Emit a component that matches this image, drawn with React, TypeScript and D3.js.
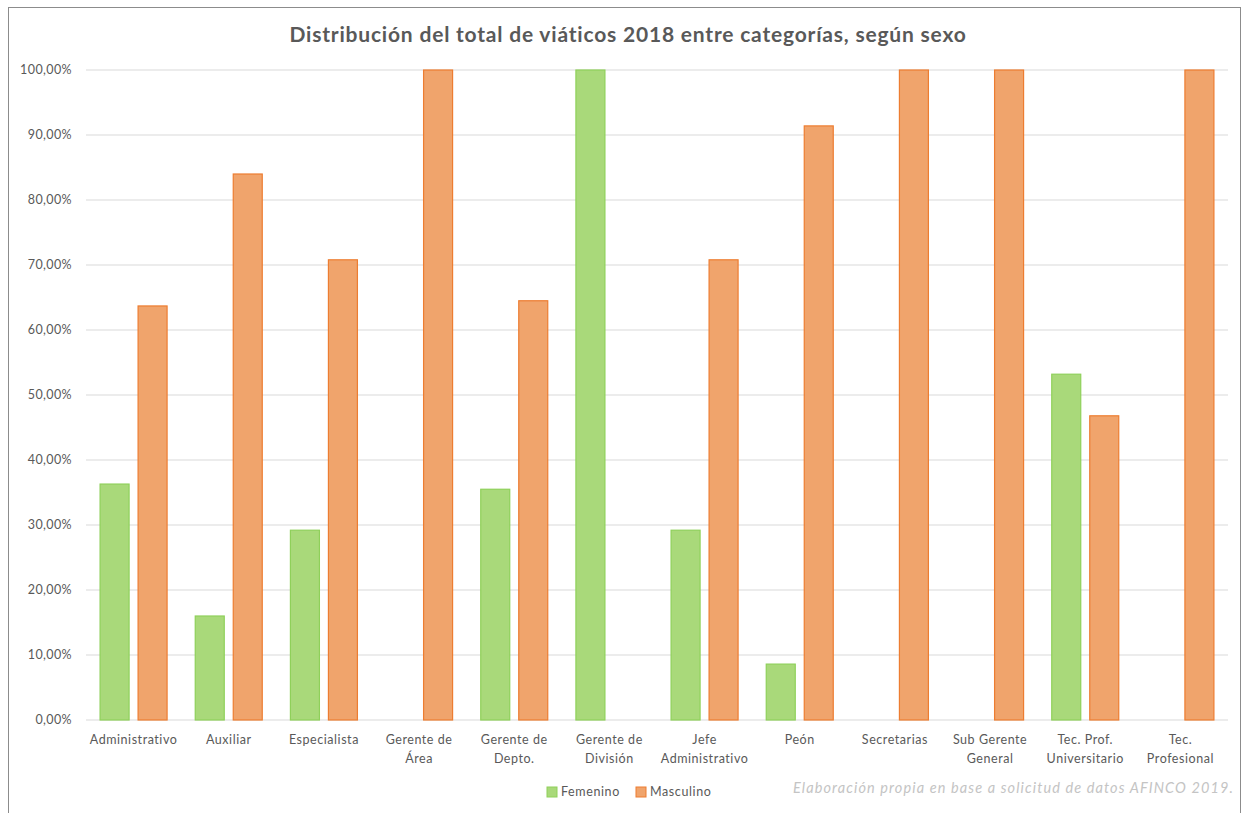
import React from "react";
import * as d3 from "d3";

const categories = [
  "Administrativo",
  "Auxiliar",
  "Especialista",
  "Gerente de Área",
  "Gerente de Depto.",
  "Gerente de División",
  "Jefe Administrativo",
  "Peón",
  "Secretarias",
  "Sub Gerente General",
  "Tec. Prof. Universitario",
  "Tec. Profesional",
];
const categoryLabelLines = [
  ["Administrativo"],
  ["Auxiliar"],
  ["Especialista"],
  ["Gerente de", "Área"],
  ["Gerente de", "Depto."],
  ["Gerente de", "División"],
  ["Jefe", "Administrativo"],
  ["Peón"],
  ["Secretarias"],
  ["Sub Gerente", "General"],
  ["Tec. Prof.", "Universitario"],
  ["Tec.", "Profesional"],
];
const femenino = [36.3, 16.0, 29.2, 0, 35.5, 100, 29.2, 8.6, 0, 0, 53.2, 0];
const masculino = [63.7, 84.0, 70.8, 100, 64.5, 0, 70.8, 91.4, 100, 100, 46.8, 100];
const yTicks = [0, 10, 20, 30, 40, 50, 60, 70, 80, 90, 100];
const seriesNames = ["Femenino", "Masculino"];

const W = 1247;
const H = 813;
const FONT = "Lato, 'Open Sans', sans-serif";
const TEXT = "#595959";
const fills = ["#a9d97a", "#f0a46c"];
const strokes = ["#8fd05a", "#ed7d31"];

export default function App() {
  const left = 86;
  const right = 1228;
  const top = 70;
  const bottom = 720;

  const x = d3.scaleBand<string>().domain(categories).range([left, right]).paddingInner(0).paddingOuter(0);
  const y = d3.scaleLinear().domain([0, 100]).range([bottom, top]);
  const bw = 30;
  const gap = 8;
  const fmt = (v: number) => v.toFixed(2).replace(".", ",") + "%";
  const series = [femenino, masculino];

  return (
    <svg
      width={W}
      height={H}
      style={{ position: "absolute", left: 0, top: 0, display: "block", background: "#fff" }}
    >
      <rect x={8.5} y={7.5} width={1232} height={H + 10} fill="#fff" stroke="#8c8c8c" strokeWidth={1} />
      <text
        x={628}
        y={42}
        textAnchor="middle"
        fontFamily={FONT}
        fontWeight="bold"
        fontSize={21}
        letterSpacing={0.8}
        fill={TEXT}
      >
        Distribución del total de viáticos 2018 entre categorías, según sexo
      </text>
      {yTicks.map((t) => (
        <g key={t}>
          <line x1={left} x2={right} y1={y(t)} y2={y(t)} stroke="#d9d9d9" strokeWidth={1} />
          <text
            x={72}
            y={y(t) + 4}
            textAnchor="end"
            fontFamily={FONT}
            fontSize={12.5}
            letterSpacing={0.4}
            fill={TEXT}
          >
            {fmt(t)}
          </text>
        </g>
      ))}
      {categories.map((c, i) => {
        const cx = (x(c) as number) + x.bandwidth() / 2;
        return (
          <g key={c}>
            {series.map((s, si) => {
              const v = s[i];
              if (!v) return null;
              const bx = si === 0 ? cx - gap / 2 - bw : cx + gap / 2;
              return (
                <rect
                  key={si}
                  x={bx + 0.5}
                  y={y(v)}
                  width={bw - 1}
                  height={y(0) - y(v)}
                  fill={fills[si]}
                  stroke={strokes[si]}
                  strokeWidth={1.2}
                />
              );
            })}
            {categoryLabelLines[i].map((ln, li) => (
              <text
                key={li}
                x={cx}
                y={744 + li * 19}
                textAnchor="middle"
                fontFamily={FONT}
                fontSize={12.5}
                letterSpacing={0.55}
                fill={TEXT}
              >
                {ln}
              </text>
            ))}
          </g>
        );
      })}
      {seriesNames.map((n, i) => {
        const lx = i === 0 ? 547 : 636;
        return (
          <g key={n}>
            <rect x={lx} y={787} width={10} height={10} fill={fills[i]} stroke={strokes[i]} strokeWidth={1} />
            <text
              x={lx + 14}
              y={796}
              fontFamily={FONT}
              fontSize={12.5}
              letterSpacing={0.6}
              fill={TEXT}
            >
              {n}
            </text>
          </g>
        );
      })}
      <text
        x={1234}
        y={793}
        textAnchor="end"
        fontFamily={FONT}
        fontStyle="italic"
        fontSize={14.5}
        letterSpacing={1.1}
        fill="#c4c4c4"
      >
        Elaboración propia en base a solicitud de datos AFINCO 2019.
      </text>
    </svg>
  );
}
